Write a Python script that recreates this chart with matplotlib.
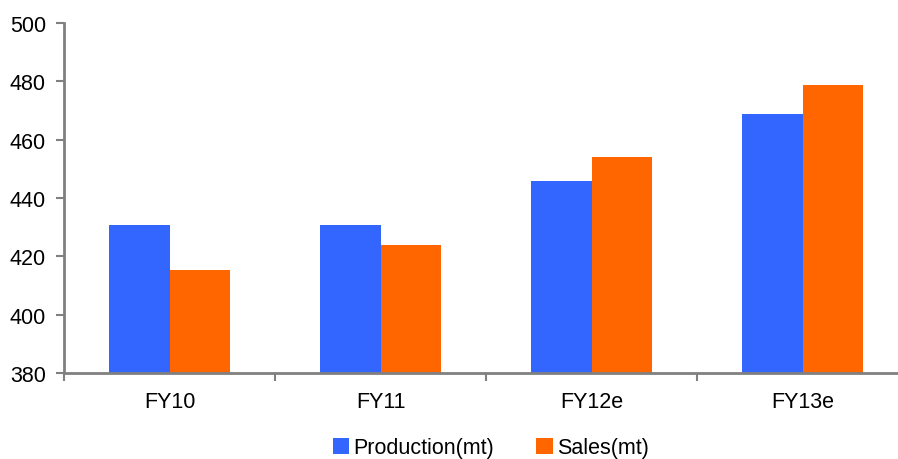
import matplotlib
matplotlib.use('Agg')
import matplotlib.pyplot as plt
import numpy as np

plt.rcParams['font.family'] = ['Liberation Sans', 'DejaVu Sans']
plt.rcParams['font.size'] = 15.5

# data
years = ['FY10', 'FY11', 'FY12e', 'FY13e']
production = [430.7, 430.7, 445.8, 468.8]
sales = [415.3, 423.9, 454.0, 478.7]

blue = '#3366FF'
orange = '#FF6600'
grey = '#808080'

fig = plt.figure(figsize=(8.98, 4.6), dpi=100)
# axis runs a little past the right edge of the figure
ax = fig.add_axes([64/898, 86/460, 844/898, 350/460])

x = np.arange(len(years))
w = 0.289
ax.bar(x - w/2, production, w, bottom=0, color=blue, label='Production(mt)', zorder=2)
ax.bar(x + w/2, sales, w, color=orange, label='Sales(mt)', zorder=2)

ax.set_xlim(-0.5, len(years) - 0.5)
ax.set_ylim(380, 500)
ax.set_yticks(np.arange(380, 501, 20))

# category labels centred, tick marks on the boundaries
ax.set_xticks(x)
ax.set_xticklabels(years)
ax.set_xticks(np.arange(-0.5, len(years), 1), minor=True)
ax.tick_params(axis='x', which='major', length=0, pad=13)
ax.tick_params(axis='x', which='minor', length=6, width=1.5, color=grey)
ax.tick_params(axis='y', length=6, width=1.5, color=grey, pad=7)

for s in ['top', 'right']:
    ax.spines[s].set_visible(False)
for s in ['left', 'bottom']:
    ax.spines[s].set_color(grey)
    ax.spines[s].set_linewidth(2)
    ax.spines[s].set_zorder(3)

fig.legend(loc='center', bbox_to_anchor=(491/898, 1 - 449/460), ncol=2,
           frameon=False, borderpad=0, handlelength=0.75, handleheight=0.75,
           handletextpad=0.2, columnspacing=1.95)

plt.savefig('out.png', dpi=100)
